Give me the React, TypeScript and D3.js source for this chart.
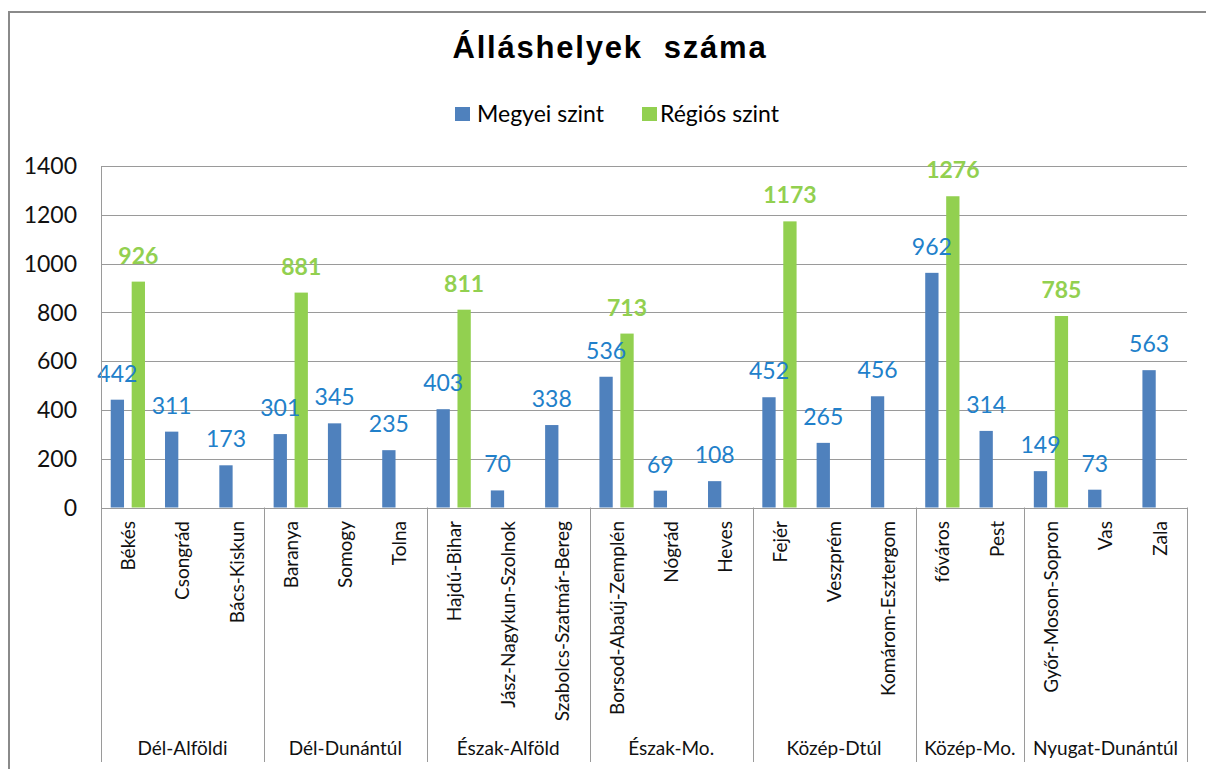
import React from "react";
import * as d3 from "d3";

const counties = [
  "Békés", "Csongrád", "Bács-Kiskun",
  "Baranya", "Somogy", "Tolna",
  "Hajdú-Bihar", "Jász-Nagykun-Szolnok", "Szabolcs-Szatmár-Bereg",
  "Borsod-Abaúj-Zemplén", "Nógrád", "Heves",
  "Fejér", "Veszprém", "Komárom-Esztergom",
  "főváros", "Pest",
  "Győr-Moson-Sopron", "Vas", "Zala",
];
const regions = ["Dél-Alföldi", "Dél-Dunántúl", "Észak-Alföld", "Észak-Mo.", "Közép-Dtúl", "Közép-Mo.", "Nyugat-Dunántúl"];
const regionSizes = [3, 3, 3, 3, 3, 2, 3];
const megyei = [442, 311, 173, 301, 345, 235, 403, 70, 338, 536, 69, 108, 452, 265, 456, 962, 314, 149, 73, 563];
const regios: (number | null)[] = [926, null, null, 881, null, null, 811, null, null, 713, null, null, 1173, null, null, 1276, null, 785, null, null];
const yTicks = [0, 200, 400, 600, 800, 1000, 1200, 1400];
const seriesNames = ["Megyei szint", "Régiós szint"];

const BLUE = "#4F81BD";
const GREEN = "#92D050";
const BLUE_LABEL = "#2180CA";
const GRID = "#9a9a9a";
const FONT = "Lato, 'Open Sans', sans-serif";

export default function App() {
  const left = 101, right = 1187, top = 166, bottom = 507.5;
  const x = d3.scaleBand<string>().domain(counties).range([left, right]).padding(0);
  const y = d3.scaleLinear().domain([0, 1400]).range([bottom, top]);
  const bw = x.bandwidth();
  const barW = 0.245 * bw;
  const blueOff = 0.179 * bw;
  const greenOff = 0.565 * bw;

  const cum: number[] = [0];
  regionSizes.forEach((s, i) => cum.push(cum[i] + s));
  const boundaryX = (i: number) => (i < counties.length ? (x(counties[i]) as number) : right);

  return (
    <svg width={1206} height={769} style={{ position: "absolute", left: 0, top: 0, background: "#fff" }} fontFamily={FONT}>
      <rect x={0} y={0} width={1206} height={769} fill="#fff" />
      {/* outer border */}
      <rect x={9} y={12} width={1230} height={800} fill="none" stroke="#8a8a8a" strokeWidth={2} />

      {/* title */}
      <text x={610} y={58} textAnchor="middle" fontFamily="'Liberation Sans', Arial, sans-serif" fontWeight="bold" fontSize={31} letterSpacing={1.8} fill="#000" style={{ whiteSpace: "pre" }}>
        {"Álláshelyek  száma"}
      </text>

      {/* legend */}
      <rect x={455} y={107} width={15} height={14} fill={BLUE} />
      <text x={477} y={122} fontSize={23} fill="#000">{seriesNames[0]}</text>
      <rect x={642} y={107} width={15} height={14} fill={GREEN} />
      <text x={660} y={122} fontSize={23} fill="#000">{seriesNames[1]}</text>

      {/* gridlines */}
      {yTicks.map((t) => (
        <line key={"g" + t} x1={left} x2={right} y1={Math.round(y(t)) + 0.5} y2={Math.round(y(t)) + 0.5} stroke={GRID} strokeWidth={1} />
      ))}
      {/* y tick labels */}
      {yTicks.map((t) => (
        <text key={"yt" + t} x={77} y={y(t)} dy="0.36em" textAnchor="end" fontSize={23} fill="#111">{t}</text>
      ))}

      {/* bars */}
      {counties.map((c, i) => (
        <rect key={"b" + c} x={(x(c) as number) + blueOff} y={y(megyei[i])} width={barW} height={y(0) - y(megyei[i])} fill={BLUE} />
      ))}
      {counties.map((c, i) =>
        regios[i] == null ? null : (
          <rect key={"gr" + c} x={(x(c) as number) + greenOff} y={y(regios[i] as number)} width={barW} height={y(0) - y(regios[i] as number)} fill={GREEN} />
        )
      )}

      {/* data labels */}
      {counties.map((c, i) => (
        <text key={"lb" + c} x={(x(c) as number) + blueOff + barW / 2} y={y(megyei[i]) - 18} textAnchor="middle" fontSize={23} fill={BLUE_LABEL}>{megyei[i]}</text>
      ))}
      {counties.map((c, i) =>
        regios[i] == null ? null : (
          <text key={"lg" + c} x={(x(c) as number) + greenOff + barW / 2} y={y(regios[i] as number) - 18} textAnchor="middle" fontSize={23} fontWeight="bold" fill={GREEN}>{regios[i]}</text>
        )
      )}

      {/* axes */}
      <line x1={left + 0.5} x2={left + 0.5} y1={top} y2={762} stroke={GRID} strokeWidth={1} />
      <line x1={left} x2={right} y1={Math.round(bottom) + 0.5} y2={Math.round(bottom) + 0.5} stroke={GRID} strokeWidth={1} />
      {cum.slice(1).map((ci) => (
        <line key={"sep" + ci} x1={Math.round(boundaryX(ci)) + 0.5} x2={Math.round(boundaryX(ci)) + 0.5} y1={bottom} y2={762} stroke={GRID} strokeWidth={1} />
      ))}

      {/* category labels */}
      {counties.map((c) => {
        const cx = (x(c) as number) + bw / 2;
        return (
          <text key={"cl" + c} transform={`translate(${cx},521) rotate(-90)`} dy="0.36em" textAnchor="end" fontSize={19} fill="#111">{c}</text>
        );
      })}

      {/* region labels */}
      {regions.map((r, i) => {
        const cx = (boundaryX(cum[i]) + boundaryX(cum[i + 1])) / 2;
        return (
          <text key={"r" + r} x={cx} y={755} textAnchor="middle" fontSize={19} fill="#111">{r}</text>
        );
      })}
    </svg>
  );
}
